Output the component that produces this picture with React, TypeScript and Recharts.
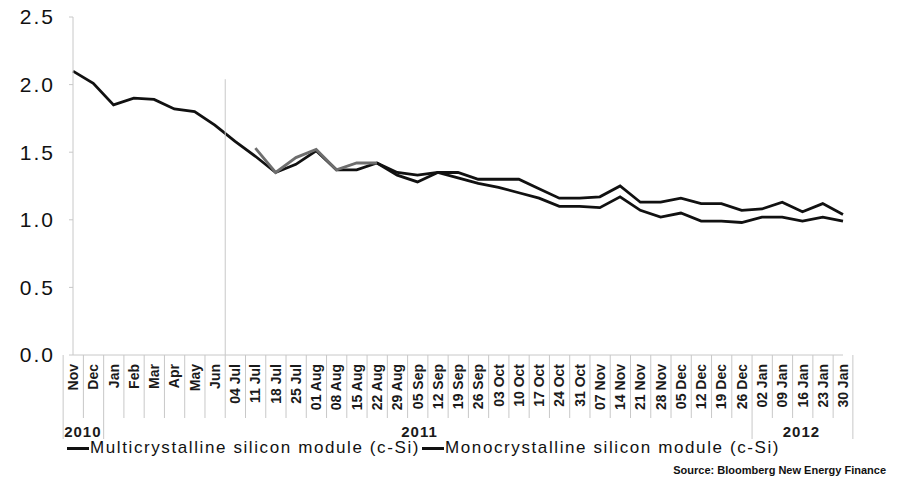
import { Line, LineChart, XAxis, YAxis } from "recharts";

const categories = [
  "Nov", "Dec", "Jan", "Feb", "Mar", "Apr", "May", "Jun",
  "04 Jul", "11 Jul", "18 Jul", "25 Jul",
  "01 Aug", "08 Aug", "15 Aug", "22 Aug", "29 Aug",
  "05 Sep", "12 Sep", "19 Sep", "26 Sep",
  "03 Oct", "10 Oct", "17 Oct", "24 Oct", "31 Oct",
  "07 Nov", "14 Nov", "21 Nov", "28 Nov",
  "05 Dec", "12 Dec", "19 Dec", "26 Dec",
  "02 Jan", "09 Jan", "16 Jan", "23 Jan", "30 Jan",
];

// multicrystalline, $/W
const multiValues = [
  2.1, 2.01, 1.85, 1.9, 1.89, 1.82, 1.8, 1.7,
  1.58, 1.47, 1.35, 1.41,
  1.51, 1.37, 1.37, 1.42, 1.33,
  1.28, 1.35, 1.31, 1.27,
  1.24, 1.2, 1.16, 1.1, 1.1,
  1.09, 1.17, 1.07, 1.02,
  1.05, 0.99, 0.99, 0.98,
  1.02, 1.02, 0.99, 1.02, 0.99,
];

// monocrystalline, weekly series starts 11 Jul
const monoValues = [
  null, null, null, null, null, null, null, null,
  null, 1.53, 1.35, 1.46,
  1.52, 1.37, 1.42, 1.42, 1.35,
  1.33, 1.35, 1.35, 1.3,
  1.3, 1.3, 1.23, 1.16, 1.16,
  1.17, 1.25, 1.13, 1.13,
  1.16, 1.12, 1.12, 1.07,
  1.08, 1.13, 1.06, 1.12, 1.04,
];

const yTicks = [0, 0.5, 1, 1.5, 2, 2.5];

const yearGroups = [
  { label: "2010", from: 0, to: 1 },
  { label: "2011", from: 2, to: 33 },
  { label: "2012", from: 34, to: 38 },
];

// index where monthly data switches to weekly (guide line drawn before it)
const weeklyStart = 8;
const greyUntil = 15;

const data = categories.map((c, i) => ({
  name: c,
  multi: multiValues[i],
  monoGrey: i <= greyUntil ? monoValues[i] : null,
  mono: i >= greyUntil ? monoValues[i] : null,
}));

const W = 916;
const H = 478;
const M = { top: 17, right: 73, bottom: 0, left: 0 };
const Y_W = 73;
const X_H = 123;
const PLOT_L = M.left + Y_W;
const PLOT_R = W - M.right;
const PLOT_T = M.top;
const PLOT_B = H - M.bottom - X_H;
const STEP = (PLOT_R - PLOT_L) / categories.length;
const FONT = "'Liberation Sans', Arial, sans-serif";
const GRID = "#c8c8c8";

function CategoryTick(props: any) {
  const { x, index, payload } = props;
  const left = x - STEP / 2;
  const group = yearGroups.find((g) => g.from === index);
  const last = index === categories.length - 1;
  const guideTop = PLOT_T + (1 - 2.04 / 2.5) * (PLOT_B - PLOT_T);
  const ty = PLOT_B + 9;
  return (
    <g>
      <line
        x1={left}
        x2={left}
        y1={index === weeklyStart ? guideTop : PLOT_B}
        y2={group ? PLOT_B + 84 : PLOT_B + 63}
        stroke={GRID}
        strokeWidth={1}
      />
      {last && (
        <line x1={x + STEP / 2} x2={x + STEP / 2} y1={PLOT_B} y2={PLOT_B + 84} stroke={GRID} strokeWidth={1} />
      )}
      <text
        x={x}
        y={ty}
        dy="0.36em"
        transform={`rotate(-90, ${x}, ${ty})`}
        textAnchor="end"
        fontFamily={FONT}
        fontWeight="bold"
        fontSize={14}
        fill="#1a1a1a"
      >
        {payload.value}
      </text>
      {group && (
        <text
          x={x + ((group.to - group.from) / 2) * STEP}
          y={PLOT_B + 82}
          textAnchor="middle"
          fontFamily={FONT}
          fontWeight="bold"
          fontSize={15}
          letterSpacing={1}
          fill="#1a1a1a"
        >
          {group.label}
        </text>
      )}
    </g>
  );
}

export default function App() {
  return (
    <div style={{ position: "relative", width: W, height: H, background: "#fff", fontFamily: FONT }}>
      <style>{"body{margin:0;background:#fff}"}</style>
      <LineChart width={W} height={H} data={data} margin={M}>
        <XAxis
          dataKey="name"
          interval={0}
          height={X_H}
          axisLine={{ stroke: GRID }}
          tickLine={false}
          tick={<CategoryTick />}
        />
        <YAxis
          width={Y_W}
          domain={[0, 2.5]}
          ticks={yTicks}
          tickFormatter={(v: number) => v.toFixed(1)}
          axisLine={{ stroke: GRID }}
          tickLine={{ stroke: GRID }}
          tickSize={4}
          tickMargin={14}
          tick={{ fill: "#111", fontSize: 21, fontFamily: FONT, letterSpacing: 2 }}
        />
        <Line
          type="linear"
          dataKey="multi"
          stroke="#111"
          strokeWidth={2.8}
          dot={false}
          isAnimationActive={false}
        />
        <Line
          type="linear"
          dataKey="mono"
          stroke="#111"
          strokeWidth={2.8}
          dot={false}
          isAnimationActive={false}
        />
        <Line
          type="linear"
          dataKey="monoGrey"
          stroke="#6e6e6e"
          strokeWidth={2.8}
          dot={false}
          isAnimationActive={false}
        />
      </LineChart>
      <div
        style={{
          position: "absolute",
          top: 438,
          left: 67,
          display: "flex",
          alignItems: "center",
          fontSize: 17,
          lineHeight: "20px",
          color: "#111",
          letterSpacing: 1.6,
          whiteSpace: "nowrap",
        }}
      >
        <span style={{ display: "inline-block", width: 22, height: 3, background: "#111", marginRight: 1 }} />
        <span>Multicrystalline silicon module (c-Si)</span>
        <span style={{ display: "inline-block", width: 22, height: 3, background: "#111", marginLeft: 2, marginRight: 1 }} />
        <span>Monocrystalline silicon module (c-Si)</span>
      </div>
      <div
        style={{
          position: "absolute",
          top: 464,
          right: 30,
          fontSize: 11,
          lineHeight: "13px",
          fontWeight: "bold",
          color: "#111",
          whiteSpace: "nowrap",
        }}
      >
        Source: Bloomberg New Energy Finance
      </div>
    </div>
  );
}
